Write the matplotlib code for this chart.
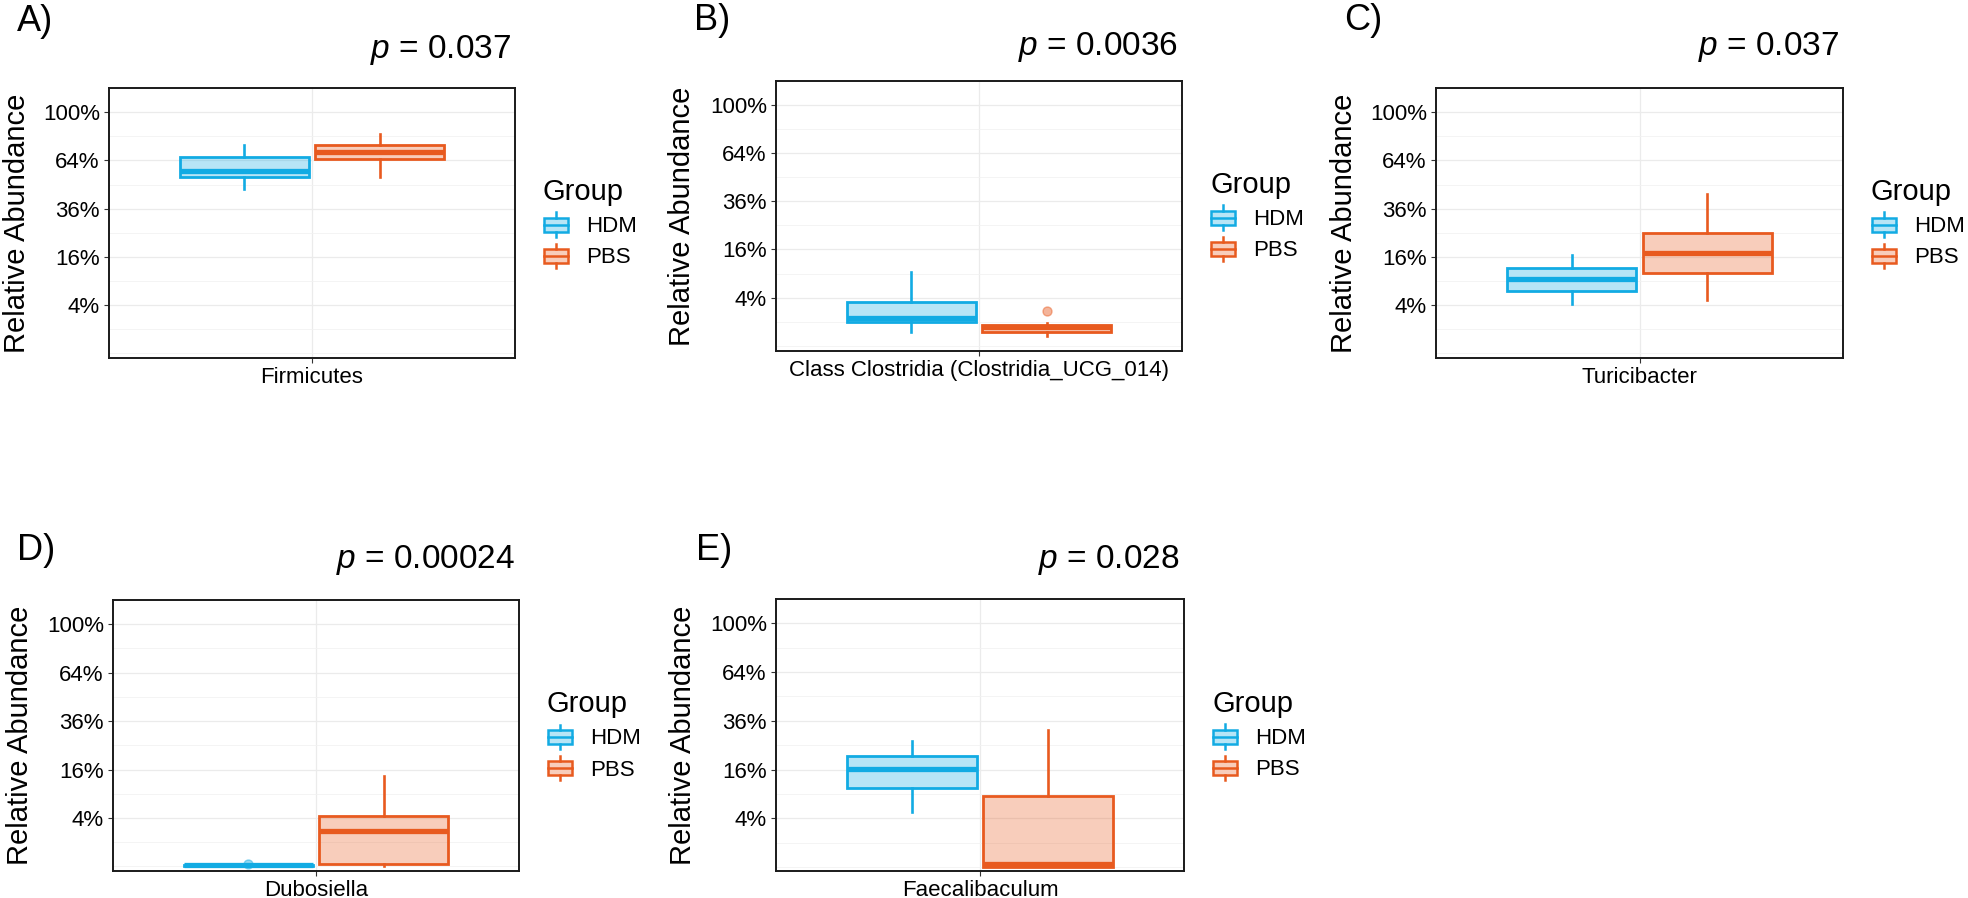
import numpy as np
import matplotlib
matplotlib.use("Agg")
import matplotlib.pyplot as plt
from matplotlib.legend_handler import HandlerBase
from matplotlib.patches import Rectangle
from matplotlib.lines import Line2D
from matplotlib.colors import to_rgba

# ---------------- data ----------------
taxa = ["Firmicutes", "Class Clostridia (Clostridia_UCG_014)", "Turicibacter",
        "Dubosiella", "Faecalibaculum"]
panel_tags = ["A)", "B)", "C)", "D)", "E)"]
p_values = ["0.037", "0.0036", "0.037", "0.00024", "0.028"]
groups = ["HDM", "PBS"]
group_colors = ["#12ABE3", "#E85A1F"]

# five-number summaries (relative abundance, proportion)
hdm_whislo = [0.464, 0.0034, 0.0416, 0.0, 0.052]
hdm_q1 = [0.536, 0.0095, 0.067, 0.0, 0.105]
hdm_med = [0.573, 0.0136, 0.094, 0.00002, 0.162]
hdm_q3 = [0.664, 0.0337, 0.125, 0.00006, 0.2095]
hdm_whishi = [0.745, 0.094, 0.167, 0.0001, 0.267]
hdm_fliers = [[], [], [], [0.00012], []]

pbs_whislo = [0.536, 0.0015, 0.0498, 0.0, 0.0]
pbs_q1 = [0.647, 0.0031, 0.110, 0.0001, 0.0]
pbs_med = [0.698, 0.0061, 0.1725, 0.021, 0.00015]
pbs_q3 = [0.745, 0.0075, 0.251, 0.0436, 0.0857]
pbs_whishi = [0.826, 0.0090, 0.4376, 0.138, 0.3145]
pbs_fliers = [[], [0.0214], [], [], []]

y_breaks = [0.04, 0.16, 0.36, 0.64, 1.0]
y_break_labels = ["4%", "16%", "36%", "64%", "100%"]
y_minor = [0.0, 0.01, 0.09, 0.25, 0.49, 0.81, 1.21]

# ---------------- layout (pixels) ----------------
W, H = 1968, 898
DPI = 100
axes_px = [(109, 88, 515, 358), (776, 81, 1182, 351), (1436, 88, 1843, 358),
           (113, 600, 519, 871), (776, 599, 1184, 871)]
ylim_sqrt = [(-0.019, 1.099), (-0.022, 1.02), (-0.019, 1.019),
             (-0.019, 1.019), (-0.016, 1.10)]
tag_pos = [(17, 31), (694, 30), (1344, 30), (17, 560), (696, 560)]
p_base = [58, 55, 55, 568, 568]
ylab_x = [17, 682, 1344, 20, 683]

plt.rcParams["font.family"] = ["Liberation Sans", "DejaVu Sans"]
plt.rcParams["mathtext.fontset"] = "custom"
plt.rcParams["mathtext.it"] = "Liberation Sans:italic"
plt.rcParams["mathtext.rm"] = "Liberation Sans"

fig = plt.figure(figsize=(W / DPI, H / DPI), dpi=DPI)


def fwd(x):
    x = np.asarray(x, dtype=float)
    return np.sign(x) * np.sqrt(np.abs(x))


def inv(y):
    y = np.asarray(y, dtype=float)
    return np.sign(y) * y ** 2


class BoxKeyHandler(HandlerBase):
    def __init__(self, color):
        super().__init__()
        self.color = color

    def create_artists(self, legend, orig_handle, xdescent, ydescent,
                       width, height, fontsize, trans):
        c = self.color
        bw = width * 0.92
        x0 = -xdescent + (width - bw) / 2
        bh = height * 0.58
        y0 = -ydescent + (height - bh) / 2
        xm = x0 + bw / 2
        rect = Rectangle((x0, y0), bw, bh, facecolor=to_rgba(c, 0.3),
                         edgecolor=c, lw=1.8, transform=trans)
        top = Line2D([xm, xm], [y0 + bh, -ydescent + height], color=c,
                     lw=1.8, transform=trans)
        bot = Line2D([xm, xm], [-ydescent, y0], color=c, lw=1.8,
                     transform=trans)
        med = Line2D([x0, x0 + bw], [y0 + bh / 2] * 2, color=c, lw=1.8,
                     transform=trans)
        return [top, bot, rect, med]


for i in range(5):
    x0, y0, x1, y1 = axes_px[i]
    ax = fig.add_axes([x0 / W, 1 - y1 / H, (x1 - x0) / W, (y1 - y0) / H])
    ax.set_yscale("function", functions=(fwd, inv))

    stats_all = [
        dict(whislo=hdm_whislo[i], q1=hdm_q1[i], med=hdm_med[i], q3=hdm_q3[i],
             whishi=hdm_whishi[i], fliers=hdm_fliers[i]),
        dict(whislo=pbs_whislo[i], q1=pbs_q1[i], med=pbs_med[i], q3=pbs_q3[i],
             whishi=pbs_whishi[i], fliers=pbs_fliers[i]),
    ]
    for g, st in enumerate(stats_all):
        c = group_colors[g]
        ax.bxp([st], positions=[0.8 + 0.4 * g], widths=0.38, patch_artist=True,
               showcaps=False, showfliers=True,
               boxprops=dict(facecolor=to_rgba(c, 0.3), edgecolor=c, lw=2.0),
               medianprops=dict(color=c, lw=3.8, solid_capstyle="butt"),
               whiskerprops=dict(color=c, lw=1.9),
               flierprops=dict(marker="o", markersize=6.5,
                               markerfacecolor=to_rgba(c, 0.45),
                               markeredgecolor=to_rgba(c, 0.45)),
               manage_ticks=False, zorder=3)

    lo, hi = ylim_sqrt[i]
    ax.set_ylim(inv(lo), inv(hi))
    ax.set_xlim(0.4, 1.6)
    ax.set_yticks(y_breaks)
    ax.set_yticklabels(y_break_labels)
    ax.set_yticks(y_minor, minor=True)
    ax.set_xticks([1.0])
    ax.set_xticklabels([taxa[i]])
    ax.tick_params(axis="both", which="major", length=3.6, width=0.8,
                   color="#333333", labelsize=16, pad=3, labelcolor="black")
    ax.tick_params(axis="y", which="minor", length=0)
    ax.grid(True, which="major", color="#EBEBEB", lw=0.9)
    ax.grid(True, which="minor", axis="y", color="#F2F2F2", lw=0.6)
    ax.set_axisbelow(True)
    for sp in ax.spines.values():
        sp.set_color("#1a1a1a")
        sp.set_linewidth(1.4)

    ax.set_ylabel("Relative Abundance", fontsize=21, va="center")
    ax.yaxis.set_label_coords((ylab_x[i] - x0) / (x1 - x0), 0.5)

    # legend
    proxies = [Rectangle((0, 0), 1, 1) for _ in groups]
    hmap = {proxies[g]: BoxKeyHandler(group_colors[g]) for g in range(2)}
    ax.legend(proxies, groups, handler_map=hmap, loc="center left",
              bbox_to_anchor=(1 + 28 / (x1 - x0), 0.5), frameon=False,
              title="Group", title_fontsize=21, fontsize=16,
              handlelength=1.15, handleheight=1.3, labelspacing=0.3,
              handletextpad=0.8, borderpad=0, borderaxespad=0,
              alignment="left")

    # p-value title and panel tag
    fig.text((x1 - 4) / W, 1 - p_base[i] / H, r"$p$ = " + p_values[i],
             fontsize=24, ha="right", va="baseline")
    tx, ty = tag_pos[i]
    fig.text(tx / W, 1 - ty / H, panel_tags[i], fontsize=26, ha="left",
             va="baseline")

fig.savefig("out.png", dpi=DPI)
